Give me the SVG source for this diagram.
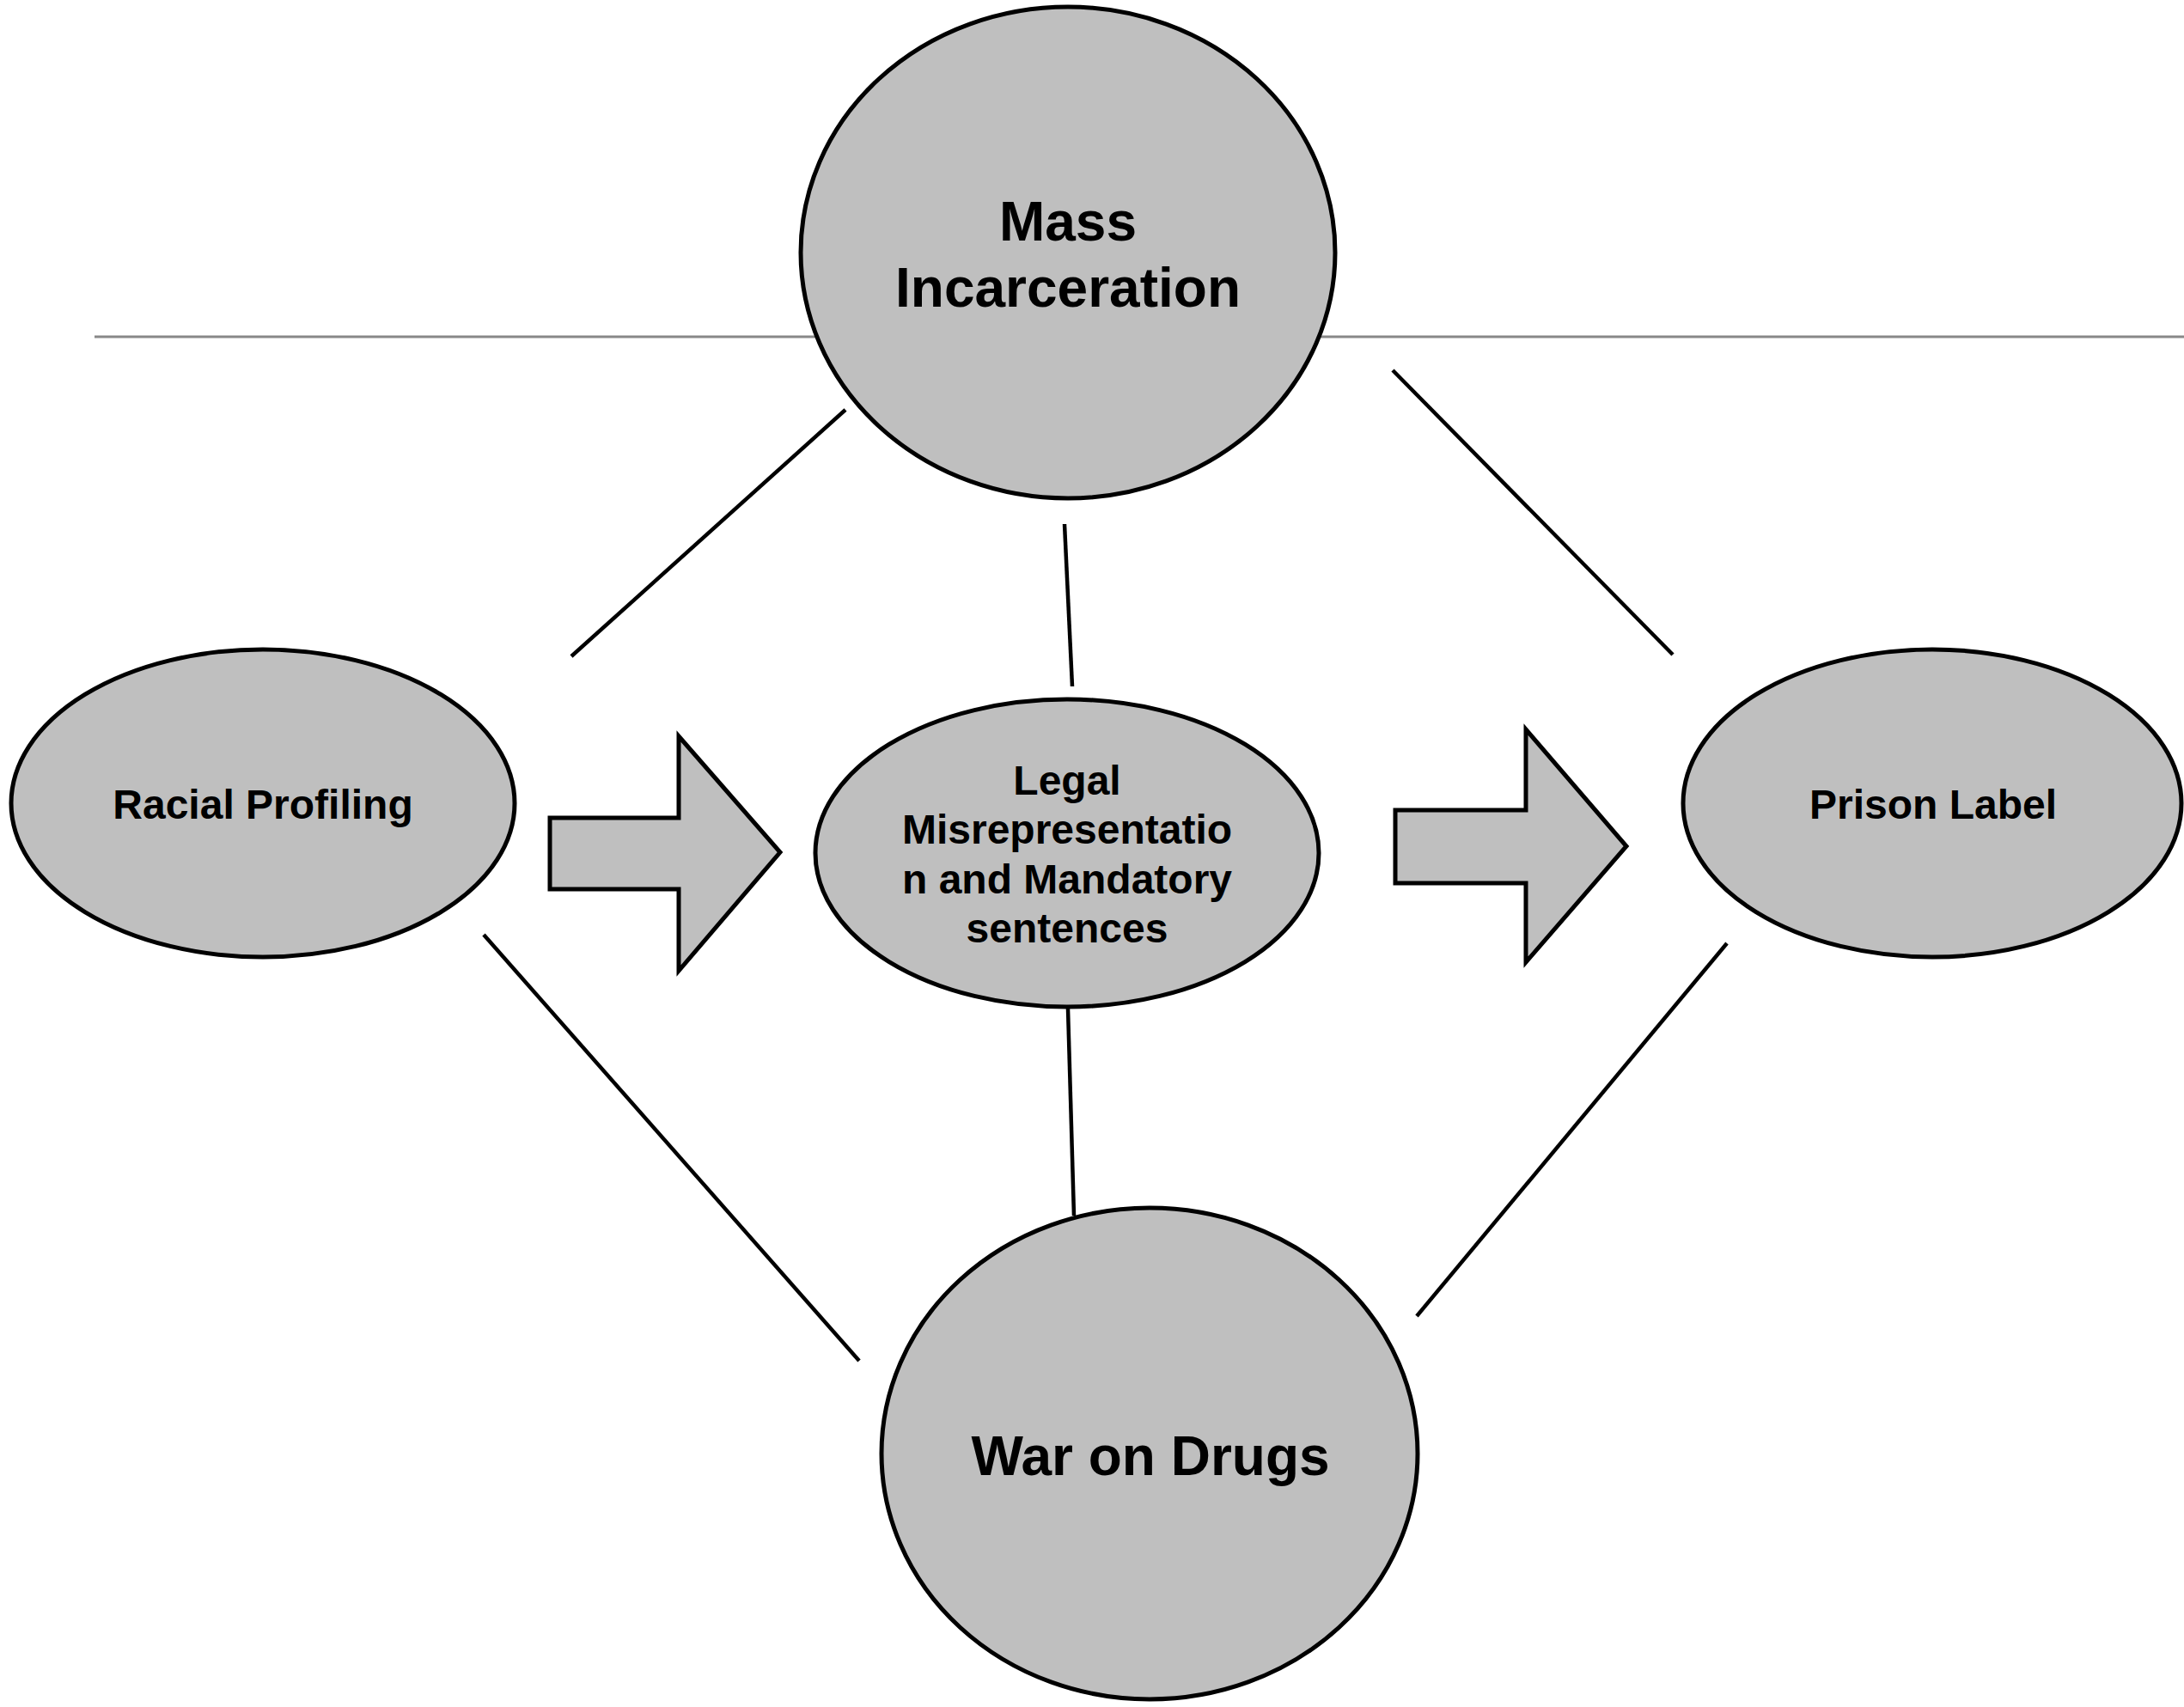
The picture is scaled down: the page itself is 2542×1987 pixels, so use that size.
<svg xmlns="http://www.w3.org/2000/svg" width="2542" height="1987" viewBox="0 0 2542 1987">
<style>
.node{fill:#bfbfbf;stroke:#000;stroke-width:5}
.arrow{fill:#bfbfbf;stroke:#000;stroke-width:5;stroke-linejoin:miter}
.conn{stroke:#000;stroke-width:4.5;fill:none}
.t{font-family:"Liberation Sans",Arial,sans-serif;font-weight:bold;fill:#000;text-anchor:middle}
.big{font-size:64px}
.small{font-size:48px}
</style>
<rect width="2542" height="1987" fill="#fff"/>
<line x1="110" y1="392" x2="2542" y2="392" stroke="#888" stroke-width="3"/>
<g id="connectors">
<line class="conn" x1="984" y1="477" x2="665" y2="764"/>
<line class="conn" x1="1239" y1="610" x2="1248" y2="799"/>
<line class="conn" x1="1621" y1="431" x2="1947" y2="762"/>
<line class="conn" x1="563" y1="1088" x2="1000" y2="1584"/>
<line class="conn" x1="1243" y1="1174" x2="1250" y2="1415"/>
<line class="conn" x1="2010" y1="1098" x2="1649" y2="1532"/>
<polygon class="arrow" points="640,952 790,952 790,857 908,992 790,1130 790,1035 640,1035"/>
<polygon class="arrow" points="1624,943 1776,943 1776,849 1893,985 1776,1120 1776,1028 1624,1028"/>
</g>
<g id="mass-incarceration">
<ellipse class="node" cx="1243" cy="294" rx="311" ry="286"/>
<text class="t big" x="1243" y="280">Mass</text>
<text class="t big" x="1243" y="357">Incarceration</text>
</g>
<g id="racial-profiling">
<ellipse class="node" cx="306" cy="935" rx="293" ry="179"/>
<text class="t small" x="306" y="953">Racial Profiling</text>
</g>
<g id="legal">
<ellipse class="node" cx="1242" cy="993" rx="293" ry="179"/>
<text class="t small" x="1242" y="925">Legal</text>
<text class="t small" x="1242" y="982">Misrepresentatio</text>
<text class="t small" x="1242" y="1040">n and Mandatory</text>
<text class="t small" x="1242" y="1097">sentences</text>
</g>
<g id="prison-label">
<ellipse class="node" cx="2249" cy="935" rx="290" ry="179"/>
<text class="t small" x="2250" y="953">Prison Label</text>
</g>
<g id="war-on-drugs">
<ellipse class="node" cx="1338" cy="1692" rx="312" ry="286"/>
<text class="t big" x="1339" y="1717">War on Drugs</text>
</g>
</svg>
